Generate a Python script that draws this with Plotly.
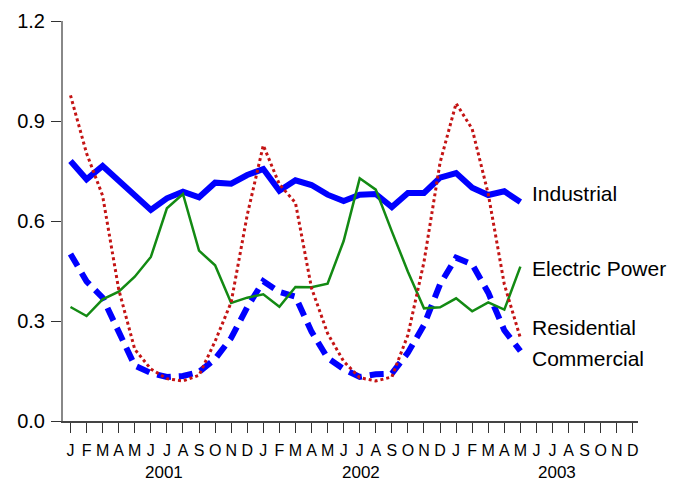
import plotly.graph_objects as go

# ---- data ----
months = ["J", "F", "M", "A", "M", "J", "J", "A", "S", "O", "N", "D"] * 3
years = ["2001", "2002", "2003"]

industrial = [0.780, 0.725, 0.765, 0.720, 0.677, 0.633, 0.668, 0.688, 0.671, 0.715, 0.712, 0.738,
              0.756, 0.691, 0.722, 0.708, 0.679, 0.660, 0.679, 0.681, 0.642, 0.684, 0.684, 0.730,
              0.744, 0.700, 0.678, 0.689, 0.657]
electric_power = [0.342, 0.315, 0.365, 0.388, 0.433, 0.492, 0.638, 0.681, 0.511, 0.467, 0.354, 0.370,
                  0.380, 0.343, 0.402, 0.401, 0.412, 0.540, 0.728, 0.694, 0.569, 0.448, 0.338, 0.341,
                  0.368, 0.329, 0.356, 0.334, 0.463]
residential = [0.977, 0.803, 0.676, 0.395, 0.215, 0.156, 0.127, 0.120, 0.137, 0.239, 0.356, 0.618,
               0.827, 0.710, 0.655, 0.399, 0.263, 0.179, 0.130, 0.120, 0.132, 0.258, 0.477, 0.775,
               0.953, 0.876, 0.681, 0.410, 0.249]
commercial = [0.501, 0.419, 0.370, 0.268, 0.166, 0.144, 0.132, 0.135, 0.147, 0.186, 0.249, 0.341,
              0.419, 0.387, 0.373, 0.268, 0.189, 0.156, 0.132, 0.140, 0.142, 0.205, 0.288, 0.410,
              0.490, 0.470, 0.385, 0.272, 0.210]

series_names = ["Industrial", "Electric Power", "Residential", "Commercial"]
y_ticks = [0.0, 0.3, 0.6, 0.9, 1.2]
y_tick_text = ["0.0", "0.3", "0.6", "0.9", "1.2"]

x = list(range(len(industrial)))
FONT = "Liberation Sans, Arial, sans-serif"

fig = go.Figure()
fig.add_trace(go.Scatter(x=x, y=commercial, mode="lines", name="Commercial",
                         line=dict(color="#0000FF", width=6, dash="14px,8px")))
fig.add_trace(go.Scatter(x=x, y=industrial, mode="lines", name="Industrial",
                         line=dict(color="#0000FF", width=6)))
fig.add_trace(go.Scatter(x=x, y=electric_power, mode="lines", name="Electric Power",
                         line=dict(color="#138A13", width=2.5)))
fig.add_trace(go.Scatter(x=x, y=residential, mode="lines", name="Residential",
                         line=dict(color="#C41414", width=3, dash="3px,3px")))

# series labels at line ends
label_y = [0.682, 0.457, 0.282, 0.189]
for name, ly in zip(series_names, label_y):
    fig.add_annotation(x=28.6, y=ly, xref="x", yref="y", text=name, showarrow=False,
                       xanchor="left", yanchor="middle",
                       font=dict(family=FONT, size=21, color="#000000"))

# year labels
year_x = [5.8, 18.05, 30.3]
for yr, yx in zip(years, year_x):
    fig.add_annotation(x=yx, y=-0.13, xref="x", yref="paper", text=yr, showarrow=False,
                       xanchor="center", yanchor="middle",
                       font=dict(family=FONT, size=17, color="#000000"))

fig.update_layout(
    width=683, height=481,
    margin=dict(l=62.5, r=45, t=10, b=59.5),
    paper_bgcolor="white", plot_bgcolor="white",
    showlegend=False,
    font=dict(family=FONT, color="#000000"),
)
fig.update_xaxes(
    range=[-0.466, 35.32],
    tickmode="array", tickvals=list(range(len(months))), ticktext=months,
    ticks="outside", ticklen=10, tickwidth=1, tickcolor="#333333",
    tickfont=dict(family=FONT, size=16, color="#000000"),
    ticklabelstandoff=4,
    showline=True, linecolor="#444444", linewidth=1.5,
    showgrid=False, zeroline=False, tickangle=0,
)
fig.update_yaxes(
    range=[0, 1.2],
    tickmode="array", tickvals=y_ticks, ticktext=y_tick_text,
    ticks="outside", ticklen=10, tickwidth=1, tickcolor="#333333",
    tickfont=dict(family=FONT, size=20, color="#000000"),
    ticklabelstandoff=2, ticklabeloverflow="allow",
    showline=True, linecolor="#888888", linewidth=2,
    showgrid=False, zeroline=False,
)

fig.write_html("out.html", config={"displayModeBar": False},
               post_script="document.body.style.margin='0';")
